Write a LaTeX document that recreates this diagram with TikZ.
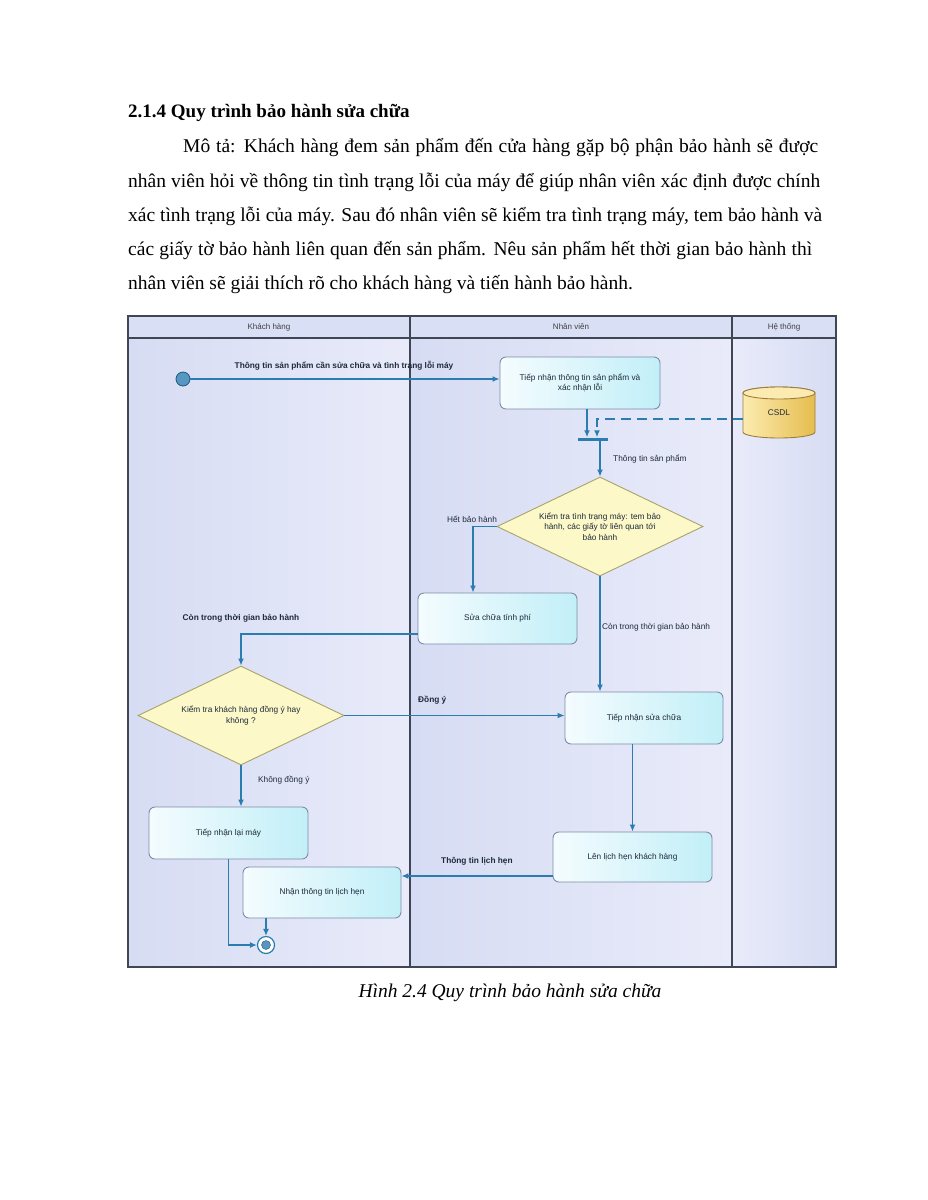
\documentclass[tikz,border=0pt]{standalone}
\usepackage{fontspec}
\setmainfont{Liberation Serif}
\newfontfamily\dgfont{Liberation Sans}
\usetikzlibrary{arrows.meta,calc,shapes.geometric}
\definecolor{laneA}{HTML}{D6DCF3}
\definecolor{laneB}{HTML}{E9EBFA}
\definecolor{headC}{HTML}{D9DFF4}
\definecolor{frameC}{HTML}{3F4654}
\definecolor{boxL}{HTML}{F4FCFE}
\definecolor{boxR}{HTML}{C2EFF8}
\definecolor{boxB}{HTML}{7F8CA6}
\definecolor{decF}{HTML}{FCF8C8}
\definecolor{decB}{HTML}{A9A36C}
\definecolor{lineC}{HTML}{2B7DB0}
\definecolor{cylL}{HTML}{FCEBB0}
\definecolor{cylR}{HTML}{E6BD4E}
\definecolor{cylB}{HTML}{9C7E3C}
\definecolor{txtC}{HTML}{1E2A3A}
\tikzset{
  dgtext/.style={font=\dgfont\fontsize{8.3}{10.5}\selectfont, text=txtC},
  dgbold/.style={font=\dgfont\bfseries\fontsize{8.3}{10.5}\selectfont, text=txtC},
  actbox/.style={draw=boxB, line width=0.9pt, rounded corners=6pt, left color=boxL, right color=boxR, dgtext, align=center, inner sep=2pt},
  decbox/.style={diamond, aspect=2, draw=decB, fill=decF, line width=0.9pt, minimum width=206pt, minimum height=99pt, inner sep=0pt, dgtext, align=center},
  conn/.style={draw=lineC, line width=1.7pt, -{Latex[length=7pt,width=6pt]}},
  lanehead/.style={font=\dgfont\fontsize{8}{9}\selectfont, text=black!75},
  bodyline/.style={anchor=base west, inner sep=0pt, font=\fontsize{19.5}{23}\selectfont},
}
\begin{document}
\begin{tikzpicture}[x=1pt,y=-1pt]
\useasboundingbox[fill=white] (0,0) rectangle (927,1200);

% heading and paragraph
\node[anchor=base west, inner sep=0pt, font=\bfseries\fontsize{19}{23}\selectfont] (title) at (128,117) {2.1.4 Quy trình bảo hành sửa chữa};
\node[bodyline] (l1) at (183,152) {\makebox[635pt][s]{Mô tả: Khách hàng đem sản phẩm đến cửa hàng gặp bộ phận bảo hành sẽ được}};
\node[bodyline] (l2) at (128,187) {\makebox[692pt][s]{nhân viên hỏi về thông tin tình trạng lỗi của máy để giúp nhân viên xác định được chính}};
\node[bodyline] (l3) at (128,221) {\makebox[694pt][s]{xác tình trạng lỗi của máy. Sau đó nhân viên sẽ kiểm tra tình trạng máy, tem bảo hành và}};
\node[bodyline] (l4) at (128,255) {\makebox[684pt][s]{các giấy tờ bảo hành liên quan đến sản phẩm. Nêu sản phẩm hết thời gian bảo hành thì}};
\node[bodyline] (l5) at (128,289) {nhân viên sẽ giải thích rõ cho khách hàng và tiến hành bảo hành.};

% swimlanes
\fill[left color=laneA, right color=laneB] (128,338) rectangle (410,967);
\fill[left color=laneA, right color=laneB] (410,338) rectangle (732,967);
\fill[left color=laneB, right color=laneA] (732,338) rectangle (836,967);
\fill[headC] (128,316) rectangle (836,338);
\draw[frameC, line width=1.2pt] (128,316) rectangle (836,967);
\draw[frameC, line width=1.2pt] (128,338) -- (836,338);
\draw[frameC, line width=1.2pt] (410,316) -- (410,967);
\draw[frameC, line width=1.2pt] (732,316) -- (732,967);
\node[lanehead] (hA) at (269,327) {Khách hàng};
\node[lanehead] (hB) at (571,327) {Nhân viên};
\node[lanehead] (hC) at (784,327) {Hệ thống};

% database cylinder
\path[draw=cylB, line width=0.9pt, left color=cylL, right color=cylR] (743,393) -- (743,432) arc[start angle=180, end angle=360, x radius=36pt, y radius=6pt] -- (815,393) arc[start angle=0, end angle=180, x radius=36pt, y radius=6pt] -- cycle;
\draw[cylB, line width=0.9pt, fill=cylL] (779,393) ellipse[x radius=36pt, y radius=6pt];
\node[dgbold, minimum width=72pt, minimum height=50pt, inner sep=0pt] (csdl) at (779,413) {\textmd{CSDL}};

% nodes
\node[circle, fill=lineC!80, draw=lineC!70!black, line width=0.8pt, minimum size=14pt, inner sep=0pt] (start) at (183,379) {};
\node[actbox, minimum width=160pt, minimum height=52pt] (b1) at (580,383) {Tiếp nhận thông tin sản phẩm và\\xác nhận lỗi};
\node[fill=lineC, minimum width=30pt, minimum height=3pt, inner sep=0pt] (bar) at (593,439) {};
\node[decbox] (d1) at (600,526.5) {Kiểm tra tình trạng máy: tem bảo\\hành, các giấy tờ liên quan tới\\bảo hành};
\node[actbox, minimum width=159pt, minimum height=51pt] (b2) at (497.5,618.5) {Sửa chữa tính phí};
\node[decbox] (d2) at (241,715.5) {Kiểm tra khách hàng đồng ý hay\\không ?};
\node[actbox, minimum width=158pt, minimum height=52pt] (b3) at (644,718) {Tiếp nhận sửa chữa};
\node[actbox, minimum width=159pt, minimum height=52pt] (b4) at (228.5,833) {Tiếp nhận lại máy};
\node[actbox, minimum width=159pt, minimum height=50pt] (b5) at (632.5,857) {Lên lịch hẹn khách hàng};
\node[actbox, minimum width=158pt, minimum height=51pt] (b6) at (322,892.5) {Nhận thông tin lịch hẹn};
\node[circle, draw=lineC, fill=white, line width=1.2pt, minimum size=17pt, inner sep=0pt] (end) at (266,945) {};
\node[circle, fill=lineC!80, draw=lineC!70!black, minimum size=9pt, inner sep=0pt] (endin) at (end.center) {};

% helper coordinates
\coordinate (c1) at ($(b1.south)+(7,0)$);
\coordinate (c2) at ($(csdl.west)+(0,6)$);
\coordinate (c3) at ($(bar.north)+(4,0)$);
\coordinate (c4) at ($(b2.north)+(-24.5,0)$);
\coordinate (c5) at ($(b2.west)+(0,15.5)$);
\coordinate (c6) at ($(b5.west)+(0,19)$);

% connectors
\draw[conn] (start) -- (start -| b1.west);
\draw[conn] (c1) -- (c1 |- bar.north);
\draw[draw=lineC, line width=1.7pt, dash pattern=on 10pt off 6pt, -{Latex[length=7pt,width=6pt]}] (c2) -| (c3);
\draw[conn] (d1.north |- bar.south) -- (d1.north);
\draw[conn] (d1.west) -| (c4);
\draw[conn] (d1.south) -- (d1.south |- b3.north);
\draw[conn] (c5) -| (d2.north);
\draw[conn] (d2.east) -- (d2.east -| b3.west);
\draw[conn] (d2.south) -- (d2.south |- b4.north);
\draw[conn] (b5.north |- b3.south) -- (b5.north);
\draw[conn] (c6) -- (c6 -| b6.east);
\draw[conn] (end.north |- b6.south) -- (end.north);
\draw[conn] (b4.south) |- (end.west);

% connector labels
\node[dgbold] (lab1) at (344,366) {Thông tin sản phẩm cần sửa chữa và tình trạng lỗi máy};
\node[dgtext, anchor=west, inner sep=0pt] (lab2) at (613,459) {Thông tin sản phẩm};
\node[dgtext] (lab3) at (472,519) {Hết bảo hành};
\node[dgtext, anchor=west, inner sep=0pt] (lab4) at (602,627) {Còn trong thời gian bảo hành};
\node[dgbold] (lab5) at (241,618) {Còn trong thời gian bảo hành};
\node[dgbold, anchor=west, inner sep=0pt] (lab6) at (418,700) {Đồng ý};
\node[dgtext, anchor=west, inner sep=0pt] (lab7) at (258,780) {Không đồng ý};
\node[dgbold, anchor=west, inner sep=0pt] (lab8) at (441,861) {Thông tin lịch hẹn};

% caption
\node[font=\itshape\fontsize{19.5}{23}\selectfont, inner sep=0pt] (cap) at (510,993) {Hình 2.4 Quy trình bảo hành sửa chữa};
\end{tikzpicture}
\end{document}
